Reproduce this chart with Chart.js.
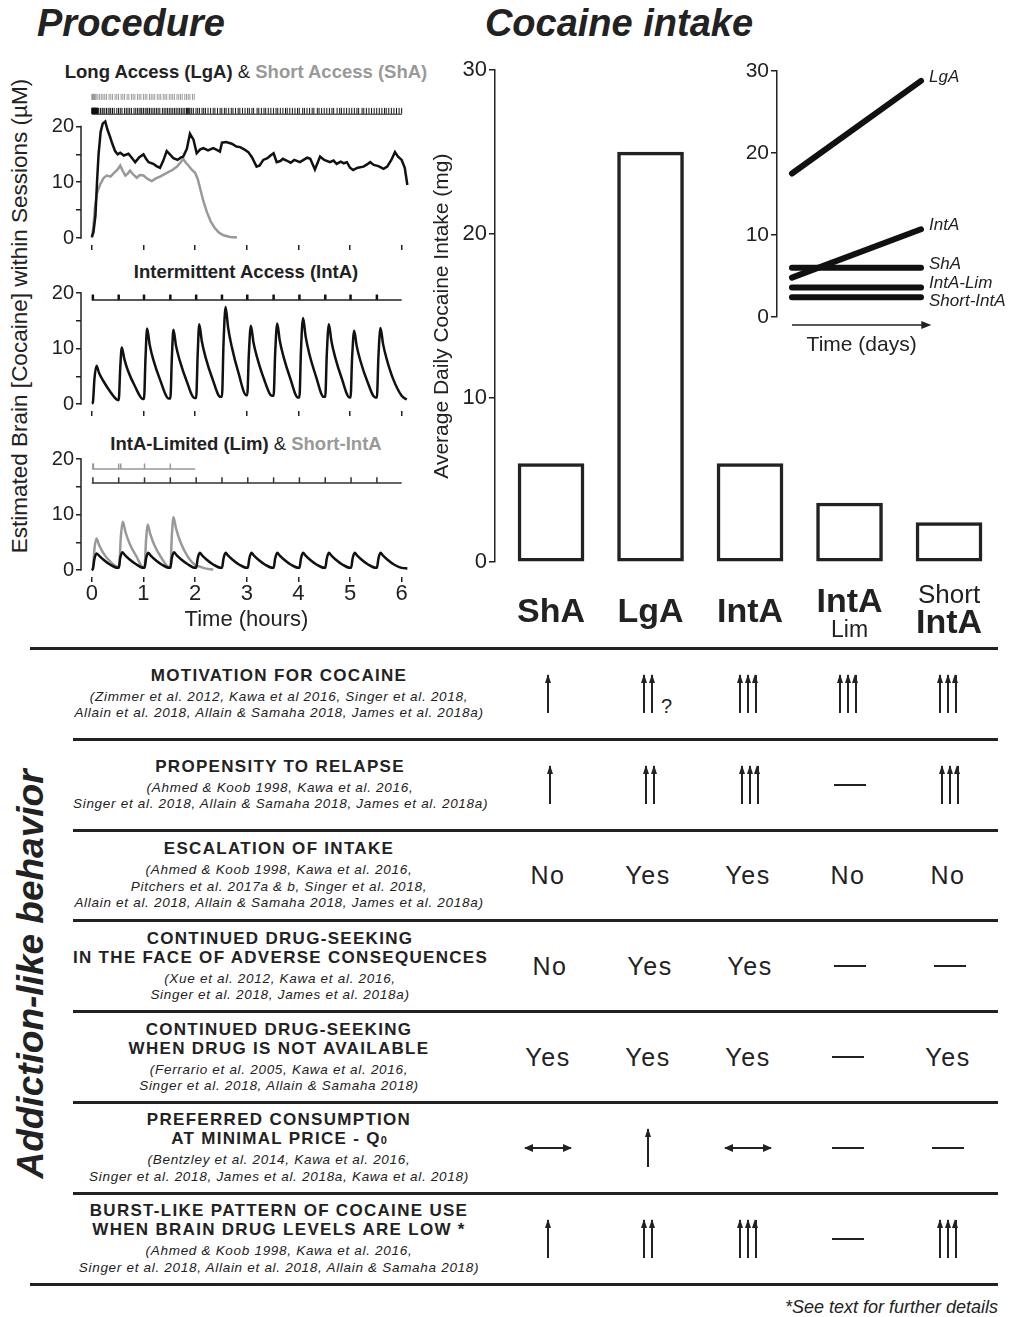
<!DOCTYPE html>
<html lang="en">
<head>
  <meta charset="UTF-8">
  <title>Procedure and cocaine intake</title>
  <script src="https://cdn.jsdelivr.net/npm/chart.js"></script>
  <style>
    html, body { margin: 0; padding: 0; background: #fff; }
    body {
      width: 1011px; height: 1317px; position: relative; overflow: hidden;
      font-family: 'Liberation Sans', Arial, sans-serif; color: #222;
    }
    .abs { position: absolute; white-space: nowrap; line-height: 1; }
    canvas { position: absolute; }
    .big { font-weight: bold; font-style: italic; font-size: 38px; }
    .ptitle { font-weight: bold; font-size: 18.5px; transform: translateX(-50%); }
    .grey { color: #999; }
    .amp { font-weight: normal; }
    .rot { transform: translate(-50%, -50%) rotate(-90deg); }

    /* behaviour table */
    .topline { position: absolute; left: 30px; width: 968px; height: 3px; background: #222; }
    #rows { position: absolute; left: 73px; top: 650px; width: 925px; }
    .row { display: flex; align-items: center; height: 87.8px; border-bottom: 3px solid #222; }
    .row.last { border-bottom: none; }
    .txt { width: 414px; text-align: center; }
    .t { font-weight: bold; font-size: 17px; line-height: 19px; letter-spacing: 1.3px; white-space: nowrap; }
    .t .sub { font-size: 11px; letter-spacing: 0; line-height: 0; }
    .c { font-style: italic; font-size: 13.5px; line-height: 16.5px; letter-spacing: 0.7px; margin-top: 4px; white-space: nowrap; }
    .cells { display: flex; margin-left: 13px; }
    .cell { width: 100px; display: flex; justify-content: center; align-items: center; }
    .grp { position: relative; display: flex; }
    .up { position: relative; display: block; width: 1.6px; height: 38px; background: #222; margin: 0 3.2px; }
    .up::before {
      content: ''; position: absolute; left: -2.7px; top: -1px;
      border-left: 3.5px solid transparent; border-right: 3.5px solid transparent;
      border-bottom: 9px solid #222;
    }
    .q { position: absolute; left: 100%; margin-left: 5px; bottom: -3px; font-size: 20px; line-height: 1; }
    .word { font-size: 25px; letter-spacing: 1.5px; }
    .dash { display: block; width: 32px; height: 2px; background: #222; }
    .lr { position: relative; display: block; width: 46px; height: 1.6px; background: #222; }
    .lr::before, .lr::after {
      content: ''; position: absolute; top: -3.2px;
      border-top: 4px solid transparent; border-bottom: 4px solid transparent;
    }
    .lr::before { left: -1px; border-right: 9px solid #222; }
    .lr::after { right: -1px; border-left: 9px solid #222; }
  </style>
</head>
<body>
  <!-- headings -->
  <div class="abs big" style="left:37px; top:4px">Procedure</div>
  <div class="abs big" style="left:619px; top:4px; transform:translateX(-50%)">Cocaine intake</div>

  <div class="abs ptitle" style="left:246px; top:63px">Long Access (LgA) <span class="amp">&amp;</span> <span class="grey">Short Access (ShA)</span></div>
  <div class="abs ptitle" style="left:246px; top:263px">Intermittent Access (IntA)</div>
  <div class="abs ptitle" style="left:246px; top:435px">IntA-Limited (Lim) <span class="amp">&amp;</span> <span class="grey">Short-IntA</span></div>
  <div class="abs rot" style="left:20px; top:316px; font-size:22.5px">Estimated Brain [Cocaine] within Sessions (µM)</div>

  <!-- charts -->
  <canvas id="procLong" width="400" height="165" style="left:20px; top:88px"></canvas>
  <canvas id="procInt" width="400" height="138" style="left:20px; top:281px"></canvas>
  <canvas id="procLim" width="400" height="189" style="left:20px; top:448px"></canvas>
  <canvas id="intake" width="570" height="590" style="left:430px; top:55px"></canvas>
  <canvas id="inset" width="311" height="300" style="left:700px; top:55px"></canvas>

  <!-- behaviour table -->
  <div class="topline" style="top:647px"></div>
  <div id="rows"></div>
  <div class="topline" style="top:1283px"></div>
  <div class="abs rot" style="left:30px; top:974px; font-size:37px; font-weight:bold; font-style:italic">Addiction-like behavior</div>
  <div class="abs" style="right:13px; top:1298px; font-size:18px; font-style:italic">*See text for further details</div>

  <script>
    // ---------- data: procedure panels (hours, µM) ----------
    const hourTicks = [0, 1, 2, 3, 4, 5, 6];
    const concTicks = [0, 5, 10, 15, 20];

    const lgaTrace = [[0,0.2],[0.03,1.0],[0.07,4.0],[0.10,10.0],[0.13,15.0],[0.17,19.0],[0.21,20.5],[0.26,20.9],
      [0.30,19.5],[0.35,18.2],[0.40,16.8],[0.45,15.6],[0.50,15.0],[0.55,15.3],[0.62,14.8],[0.71,15.1],[0.78,14.3],
      [0.84,13.6],[0.92,14.5],[1.00,15.0],[1.05,14.2],[1.10,13.6],[1.19,13.3],[1.25,12.9],[1.32,12.6],[1.38,13.8],
      [1.45,15.6],[1.52,14.9],[1.58,14.3],[1.66,14.0],[1.72,14.4],[1.77,14.6],[1.84,16.0],[1.90,18.7],[1.97,17.6],
      [2.03,15.2],[2.10,15.9],[2.16,16.1],[2.25,15.7],[2.35,16.1],[2.42,15.8],[2.48,15.5],[2.52,17.1],[2.60,17.2],
      [2.71,16.9],[2.80,16.4],[2.87,16.3],[2.95,15.9],[3.03,15.4],[3.10,14.5],[3.19,12.8],[3.25,13.0],[3.32,14.0],
      [3.40,14.3],[3.46,14.8],[3.52,15.2],[3.58,13.6],[3.65,13.8],[3.70,14.2],[3.77,13.9],[3.85,13.5],[3.92,14.0],
      [4.03,13.6],[4.10,14.0],[4.17,14.4],[4.23,14.2],[4.32,12.3],[4.42,14.6],[4.50,14.0],[4.61,13.6],[4.68,13.9],
      [4.74,13.3],[4.82,13.7],[4.88,13.4],[4.94,13.6],[5.00,12.6],[5.06,12.2],[5.15,12.6],[5.26,12.8],[5.33,13.2],
      [5.39,13.6],[5.46,13.1],[5.55,12.9],[5.65,12.4],[5.72,12.8],[5.80,14.0],[5.87,15.4],[5.93,14.6],[6.00,14.0],
      [6.06,12.6],[6.11,9.5]];
    const shaTrace = [[0,0],[0.03,2.0],[0.06,5.5],[0.10,8.0],[0.16,9.6],[0.23,10.8],[0.29,11.2],[0.36,11.0],
      [0.42,11.6],[0.50,12.3],[0.55,13.0],[0.60,12.0],[0.65,11.2],[0.70,11.6],[0.74,12.1],[0.80,11.4],[0.87,10.8],
      [0.93,11.3],[1.00,11.2],[1.08,10.6],[1.16,10.2],[1.24,10.7],[1.32,11.0],[1.40,11.4],[1.48,11.8],[1.56,12.2],
      [1.65,12.8],[1.72,13.6],[1.77,14.2],[1.82,13.5],[1.87,13.0],[1.94,12.2],[2.00,11.7],[2.05,10.6],[2.10,8.8],
      [2.16,6.6],[2.23,4.6],[2.30,3.0],[2.38,1.8],[2.46,1.0],[2.55,0.5],[2.68,0.2],[2.81,0.1]];
    // infusion rasters (minutes)
    const lgaInfusionsMin = [0,0.3,0.6,0.9,1.2,1.5,1.8,2.1,2.4,2.7,3,3.3,3.6,3.9,4.2,4.5,4.8,5.1,5.5,6,6.5,7,8,
      10,12,13,15,17,19,21,22,24,26,29,31,33,35,38,40,42,44,46,49,51,53,55,57,58,60,62,64,65,67,69,71,73,75,77,79,
      82,84,86,88,90,92,94,96,98,100,102,104,106,108,110,111,112,113,114,116,118,121,123,125,128,130,132,135,138,
      141,143,146,149,151,154,156,159,162,164,167,170,172,175,178,181,183,186,188,192,194,197,200,202,205,208,211,
      214,216,219,222,225,227,230,233,236,239,241,245,247,250,253,256,258,262,264,267,270,273,276,279,281,285,288,
      290,293,296,299,302,305,308,310,314,316,319,322,325,328,331,334,337,340,342,345,348,351,354,357,360];
    const shaInfusionsMin = [0,0.5,1,1.5,2,2.5,3,4,5,7,9,11,13,15,17,20,22,24,27,29,31,34,36,38,41,43,46,48,
      50,53,55,57,60,62,64,67,69,71,73,76,78,80,83,85,87,90,92,94,96,99,101,103,105,108,110,112,114,117,119];

    const intaTrace = [[0.00,0.1],[0.02,0.3],[0.05,4.5],[0.09,6.9],[0.14,5.6],[0.22,4.2],[0.35,2.3],[0.48,0.8],
      [0.52,0.7],[0.55,6.5],[0.58,10.2],[0.63,8.1],[0.70,6.0],[0.83,3.3],[0.99,0.9],
      [1.01,0.9],[1.04,8.5],[1.07,13.6],[1.12,10.7],[1.19,8.0],[1.32,4.4],[1.49,1.0],
      [1.52,1.0],[1.55,8.4],[1.58,13.4],[1.63,10.5],[1.70,7.9],[1.83,4.3],[1.99,1.1],
      [2.02,1.1],[2.05,9.0],[2.08,14.4],[2.13,11.3],[2.20,8.5],[2.33,4.7],[2.49,1.3],
      [2.52,1.3],[2.55,10.9],[2.59,17.5],[2.64,13.7],[2.71,10.3],[2.84,5.6],[2.99,1.6],
      [3.01,1.6],[3.04,8.9],[3.08,14.1],[3.13,11.1],[3.20,8.4],[3.33,4.6],[3.49,1.5],
      [3.52,1.5],[3.55,9.1],[3.59,14.5],[3.64,11.4],[3.71,8.6],[3.84,4.7],[3.99,1.2],
      [4.02,1.2],[4.05,9.7],[4.09,15.5],[4.14,12.2],[4.21,9.1],[4.34,5.0],[4.49,1.3],
      [4.52,1.3],[4.55,9.0],[4.59,14.4],[4.64,11.3],[4.71,8.5],[4.84,4.6],[4.99,1.2],
      [5.01,1.2],[5.04,8.3],[5.08,13.2],[5.13,10.4],[5.20,7.8],[5.33,4.2],[5.49,1.2],
      [5.52,1.2],[5.55,8.6],[5.59,13.7],[5.64,10.8],[5.71,8.1],[5.84,4.4],[6.00,1.5],[6.10,0.8]];
    const intaTrials = [0.02, 0.52, 1.01, 1.52, 2.02, 2.52, 3.01, 3.52, 4.02, 4.52, 5.01, 5.52];

    const limTrace = [[0,0],[0.02,0.2],[0.05,2.0],[0.09,3.0],[0.14,2.6],[0.22,1.9],[0.35,1.0],[0.50,0.4],
      [0.52,0.4],[0.55,2.2],[0.59,3.2],[0.64,2.7],[0.72,2.0],[0.85,1.1],[1.00,0.4],
      [1.02,0.4],[1.05,2.1],[1.09,3.1],[1.14,2.6],[1.22,1.9],[1.35,1.0],[1.50,0.4],
      [1.52,0.4],[1.55,2.2],[1.59,3.2],[1.64,2.7],[1.72,2.0],[1.85,1.1],[2.00,0.4],
      [2.02,0.4],[2.05,2.1],[2.09,3.1],[2.14,2.6],[2.22,1.9],[2.35,1.0],[2.50,0.4],
      [2.52,0.4],[2.55,2.1],[2.59,3.1],[2.64,2.6],[2.72,1.9],[2.85,1.0],[3.00,0.4],
      [3.02,0.4],[3.05,2.1],[3.09,3.1],[3.14,2.6],[3.22,1.9],[3.35,1.0],[3.50,0.4],
      [3.52,0.4],[3.55,2.1],[3.59,3.1],[3.64,2.6],[3.72,1.9],[3.85,1.0],[4.00,0.4],
      [4.02,0.4],[4.05,2.1],[4.09,3.1],[4.14,2.6],[4.22,1.9],[4.35,1.0],[4.50,0.4],
      [4.52,0.4],[4.55,2.1],[4.59,3.1],[4.64,2.6],[4.72,1.9],[4.85,1.0],[5.00,0.4],
      [5.02,0.4],[5.05,2.1],[5.09,3.1],[5.14,2.6],[5.22,1.9],[5.35,1.0],[5.50,0.4],
      [5.52,0.4],[5.55,2.1],[5.59,3.1],[5.64,2.6],[5.72,1.9],[5.85,1.0],[6.00,0.4],[6.11,0.3]];
    const limTrials = [0.02, 0.52, 1.02, 1.52, 2.02, 2.52, 3.02, 3.52, 4.02, 4.52, 5.02, 5.52];

    const shortIntaTrace = [[0,0],[0.02,0.2],[0.05,3.8],[0.09,5.7],[0.14,4.5],[0.22,3.1],[0.35,1.6],[0.50,0.6],
      [0.53,0.6],[0.56,5.8],[0.60,8.7],[0.65,6.9],[0.73,4.8],[0.86,2.5],[1.00,0.5],
      [1.02,0.5],[1.05,5.4],[1.08,8.2],[1.13,6.5],[1.21,4.5],[1.34,2.3],[1.50,0.5],
      [1.52,0.5],[1.55,6.3],[1.58,9.5],[1.63,7.5],[1.71,5.2],[1.84,2.7],[2.00,0.9],
      [2.10,0.6],[2.20,0.3],[2.35,0.1]];
    const shortIntaTrials = [0.02, 0.03, 0.52, 0.56, 1.02, 1.52];

    // ---------- data: cocaine intake ----------
    const groups = ['ShA', 'LgA', 'IntA', 'IntA-Lim', 'Short-IntA'];
    const dailyIntake = [6.0, 25.0, 6.0, 3.6, 2.4];
    const labelTop = ['', '', '', '', 'Short'];
    const labelMain = ['ShA', 'LgA', 'IntA', 'IntA', 'IntA'];
    const labelSub = ['', '', '', 'Lim', ''];
    const intakeTicks = [0, 10, 20, 30];

    const insetSeries = ['LgA', 'IntA', 'ShA', 'IntA-Lim', 'Short-IntA'];
    const insetFirstDay = [17.5, 4.8, 6.0, 3.6, 2.4];
    const insetLastDay = [28.8, 10.7, 6.0, 3.6, 2.4];

    // ---------- data: behaviour table ----------
    const behaviorTitles = [
      ['MOTIVATION FOR COCAINE'],
      ['PROPENSITY TO RELAPSE'],
      ['ESCALATION OF INTAKE'],
      ['CONTINUED DRUG-SEEKING', 'IN THE FACE OF ADVERSE CONSEQUENCES'],
      ['CONTINUED DRUG-SEEKING', 'WHEN DRUG IS NOT AVAILABLE'],
      ['PREFERRED CONSUMPTION', 'AT MINIMAL PRICE - Q<span class="sub">0</span>'],
      ['BURST-LIKE PATTERN OF COCAINE USE', 'WHEN BRAIN DRUG LEVELS ARE LOW *']
    ];
    const citations = [
      ['(Zimmer et al. 2012, Kawa et al 2016, Singer et al. 2018,', 'Allain et al. 2018, Allain &amp; Samaha 2018, James et al. 2018a)'],
      ['(Ahmed &amp; Koob 1998, Kawa et al. 2016,', 'Singer et al. 2018, Allain &amp; Samaha 2018, James et al. 2018a)'],
      ['(Ahmed &amp; Koob 1998, Kawa et al. 2016,', 'Pitchers et al. 2017a &amp; b, Singer et al. 2018,', 'Allain et al. 2018, Allain &amp; Samaha 2018, James et al. 2018a)'],
      ['(Xue et al. 2012, Kawa et al. 2016,', 'Singer et al. 2018, James et al. 2018a)'],
      ['(Ferrario et al. 2005, Kawa et al. 2016,', 'Singer et al. 2018, Allain &amp; Samaha 2018)'],
      ['(Bentzley et al. 2014, Kawa et al. 2016,', 'Singer et al. 2018, James et al. 2018a, Kawa et al. 2018)'],
      ['(Ahmed &amp; Koob 1998, Kawa et al. 2016,', 'Singer et al. 2018, Allain et al. 2018, Allain &amp; Samaha 2018)']
    ];
    // number = count of up arrows, '-' none, '<>' no change
    const rowSymbols = [
      ['1', '2?', '3', '3', '3'],
      ['1', '2', '3', '-', '3'],
      ['No', 'Yes', 'Yes', 'No', 'No'],
      ['No', 'Yes', 'Yes', '-', '-'],
      ['Yes', 'Yes', 'Yes', '-', 'Yes'],
      ['<>', '1', '<>', '-', '-'],
      ['1', '2', '3', '-', '3']
    ];

    // ---------- chart setup ----------
    const FONT = "'Liberation Sans', Arial, sans-serif";
    const INK = '#222';
    const GREY = '#999';
    Chart.defaults.font.family = FONT;
    Chart.defaults.color = INK;

    const pts = arr => arr.map(p => ({ x: p[0], y: p[1] }));
    const trace = (arr, color, smooth) => ({
      data: pts(arr), showLine: true, borderColor: color, borderWidth: 2.5,
      pointRadius: 0, tension: 0, cubicInterpolationMode: smooth ? 'monotone' : 'default', clip: false
    });
    const ticksAt = (times, level, color, r, w) => ({
      data: times.map(t => ({ x: t, y: level })), showLine: false, pointStyle: 'line', rotation: 90,
      pointRadius: r, borderColor: color, pointBorderColor: color, borderWidth: w, pointBorderWidth: w, clip: false
    });
    const hline = (from, to, level, color, w) => ({
      data: [{ x: from, y: level }, { x: to, y: level }], showLine: true, borderColor: color,
      borderWidth: w, pointRadius: 0, clip: false
    });

    // y axis line only from 0 to 20
    const shortAxis = {
      id: 'shortAxis',
      afterDraw(chart) {
        const ys = chart.scales.y, ctx = chart.ctx, x = chart.chartArea.left;
        ctx.save();
        ctx.strokeStyle = INK; ctx.lineWidth = 1.5;
        ctx.beginPath();
        ctx.moveTo(x, ys.getPixelForValue(0) + 0.75);
        ctx.lineTo(x, ys.getPixelForValue(20) - 0.75);
        ctx.stroke();
        ctx.restore();
      }
    };

    function procedureChart(id, datasets, yMax, withLabels) {
      return new Chart(document.getElementById(id), {
        type: 'scatter',
        data: { datasets },
        options: {
          responsive: false, animation: false, events: [],
          layout: { padding: { top: 4, right: 8, left: 0, bottom: 0 } },
          plugins: { legend: { display: false }, tooltip: { enabled: false } },
          scales: {
            x: {
              type: 'linear', min: -0.21, max: 6.2,
              afterBuildTicks: s => { s.ticks = hourTicks.map(v => ({ value: v })); },
              afterFit: s => { s.height = withLabels ? 60 : 8; s.paddingLeft = 0; s.paddingRight = 0; },
              grid: { drawOnChartArea: false, tickLength: 5, color: INK, lineWidth: 1.5 },
              border: { display: false },
              ticks: { display: withLabels, font: { size: 22 }, color: INK, padding: -1, autoSkip: false, maxRotation: 0 },
              title: { display: withLabels, text: 'Time (hours)', font: { size: 22 }, color: INK, padding: { top: 0, bottom: 4 } }
            },
            y: {
              min: -1.25, max: yMax,
              afterBuildTicks: s => { s.ticks = concTicks.map(v => ({ value: v })); },
              afterFit: s => { s.width = 61; s.paddingTop = 0; s.paddingBottom = 0; },
              grid: { drawOnChartArea: false, tickLength: 5, color: INK, lineWidth: 1.5 },
              border: { display: false },
              ticks: { font: { size: 20 }, color: INK, padding: 2, callback: v => (v % 10 === 0 ? v : '') }
            }
          }
        },
        plugins: [shortAxis]
      });
    }

    procedureChart('procLong', [
      trace(lgaTrace, '#111', false),
      trace(shaTrace, GREY, false),
      ticksAt(lgaInfusionsMin.map(m => m / 60), 22.8, '#111', 3, 1),
      hline(0, 6, 22.2, '#111', 1),
      ticksAt(shaInfusionsMin.map(m => m / 60), 25.3, GREY, 3, 1)
    ], 26, false);

    procedureChart('procInt', [
      trace(intaTrace, '#111', true),
      hline(0, 6, 18.75, INK, 1.5),
      ticksAt(intaTrials, 19.23, '#111', 2.8, 2.5)
    ], 21, false);

    procedureChart('procLim', [
      trace(limTrace, '#111', true),
      trace(shortIntaTrace, GREY, true),
      hline(0, 6, 15.7, '#333', 1.5),
      ticksAt(limTrials, 16.2, '#333', 2.8, 1.5),
      hline(0, 2, 18.2, GREY, 1.5),
      ticksAt(shortIntaTrials, 18.7, GREY, 2.8, 1.5)
    ], 21, true);

    // category labels under bars
    const barLabels = {
      id: 'barLabels',
      afterDraw(chart) {
        const ctx = chart.ctx, xs = chart.scales.x, base = chart.chartArea.bottom;
        ctx.save();
        ctx.fillStyle = INK; ctx.textAlign = 'center'; ctx.textBaseline = 'alphabetic';
        labelMain.forEach((main, i) => {
          const x = xs.getPixelForValue(i);
          let mainY = base + 60;
          if (labelSub[i]) mainY = base + 50;
          if (labelTop[i]) mainY = base + 71;
          ctx.font = 'bold 34px ' + FONT;
          ctx.fillText(main, x, mainY);
          if (labelSub[i]) { ctx.font = '23px ' + FONT; ctx.fillText(labelSub[i], x, base + 75); }
          if (labelTop[i]) { ctx.font = '26px ' + FONT; ctx.fillText(labelTop[i], x, base + 41); }
        });
        ctx.restore();
      }
    };

    new Chart(document.getElementById('intake'), {
      type: 'bar',
      data: {
        labels: groups,
        datasets: [{
          data: dailyIntake.map((v, i) => ({ x: i, y: v })),
          backgroundColor: '#fff', borderColor: INK, borderWidth: 3.5, borderSkipped: false, barThickness: 66
        }]
      },
      options: {
        responsive: false, animation: false, events: [],
        layout: { padding: { top: 15, right: 5, bottom: 83, left: 0 } },
        plugins: { legend: { display: false }, tooltip: { enabled: false } },
        scales: {
          x: { type: 'linear', display: false, offset: false, min: -0.563, max: 4.462 },
          y: {
            min: 0, max: 30,
            afterBuildTicks: s => { s.ticks = intakeTicks.map(v => ({ value: v })); },
            afterFit: s => { s.width = 65; },
            grid: { drawOnChartArea: false, tickLength: 6, color: INK, lineWidth: 1.5 },
            border: { display: true, color: INK, width: 1.5 },
            ticks: { font: { size: 22 }, color: INK, padding: 2 },
            title: { display: true, text: 'Average Daily Cocaine Intake (mg)', font: { size: 21 }, color: INK, padding: { top: 0, bottom: 0 } }
          }
        }
      },
      plugins: [barLabels]
    });

    // inset: series names and the time arrow
    const insetDecor = {
      id: 'insetDecor',
      afterDraw(chart) {
        const ctx = chart.ctx, xs = chart.scales.x, ys = chart.scales.y;
        ctx.save();
        ctx.fillStyle = INK; ctx.strokeStyle = INK;
        ctx.font = 'italic 17px ' + FONT; ctx.textBaseline = 'alphabetic'; ctx.textAlign = 'left';
        const order = insetSeries.map((_, i) => i).sort((a, b) => insetLastDay[b] - insetLastDay[a]);
        let prev = -Infinity;
        order.forEach(i => {
          const y = Math.max(ys.getPixelForValue(insetLastDay[i]), prev + 18);
          prev = y;
          ctx.fillText(insetSeries[i], xs.getPixelForValue(1) + 8, y + 1);
        });
        const x0 = xs.getPixelForValue(0), x1 = xs.getPixelForValue(1.08);
        const ya = chart.chartArea.bottom + 8;
        ctx.lineWidth = 1.5;
        ctx.beginPath(); ctx.moveTo(x0, ya); ctx.lineTo(x1 - 8, ya); ctx.stroke();
        ctx.beginPath(); ctx.moveTo(x1, ya); ctx.lineTo(x1 - 10, ya - 4); ctx.lineTo(x1 - 10, ya + 4); ctx.closePath(); ctx.fill();
        ctx.font = '21px ' + FONT; ctx.textAlign = 'center';
        ctx.fillText('Time (days)', (x0 + x1) / 2, chart.chartArea.bottom + 34);
        ctx.restore();
      }
    };

    new Chart(document.getElementById('inset'), {
      type: 'scatter',
      data: {
        datasets: insetSeries.map((name, i) => ({
          label: name,
          data: [{ x: 0, y: insetFirstDay[i] }, { x: 1, y: insetLastDay[i] }],
          showLine: true, borderColor: '#111', borderWidth: 6, borderCapStyle: 'round',
          pointRadius: 0, clip: false
        }))
      },
      options: {
        responsive: false, animation: false, events: [],
        layout: { padding: { top: 16, right: 90, bottom: 38, left: 0 } },
        plugins: { legend: { display: false }, tooltip: { enabled: false } },
        scales: {
          x: { type: 'linear', display: false, min: -0.116, max: 1 },
          y: {
            min: 0, max: 30,
            afterBuildTicks: s => { s.ticks = intakeTicks.map(v => ({ value: v })); },
            afterFit: s => { s.width = 77; },
            grid: { drawOnChartArea: false, tickLength: 6, color: INK, lineWidth: 1.5 },
            border: { display: true, color: INK, width: 1.5 },
            ticks: { font: { size: 21 }, color: INK, padding: 2 }
          }
        }
      },
      plugins: [insetDecor]
    });

    // ---------- behaviour table ----------
    function symbolHtml(code) {
      if (code === 'Yes' || code === 'No') return '<span class="word">' + code + '</span>';
      if (code === '-') return '<span class="dash"></span>';
      if (code === '<>') return '<span class="lr"></span>';
      const n = parseInt(code, 10);
      let html = '<span class="grp">' + '<span class="up"></span>'.repeat(n);
      if (code.endsWith('?')) html += '<span class="q">?</span>';
      return html + '</span>';
    }

    const rowsEl = document.getElementById('rows');
    behaviorTitles.forEach((title, r) => {
      const row = document.createElement('div');
      row.className = 'row' + (r === behaviorTitles.length - 1 ? ' last' : '');
      const txt = '<div class="txt">' + title.map(t => '<div class="t">' + t + '</div>').join('') +
        '<div class="c">' + citations[r].join('<br>') + '</div></div>';
      const cells = '<div class="cells">' + rowSymbols[r].map(s => '<div class="cell">' + symbolHtml(s) + '</div>').join('') + '</div>';
      row.innerHTML = txt + cells;
      rowsEl.appendChild(row);
    });
  </script>
</body>
</html>
